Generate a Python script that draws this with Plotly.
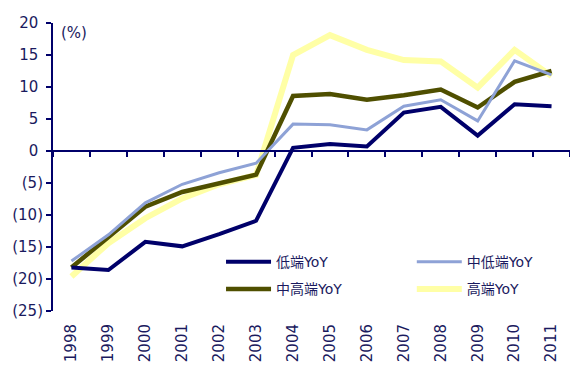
import plotly.graph_objects as go

years = ["1998", "1999", "2000", "2001", "2002", "2003", "2004",
         "2005", "2006", "2007", "2008", "2009", "2010", "2011"]

low = [-18.2, -18.6, -14.2, -14.9, -13.0, -10.9, 0.5, 1.1, 0.7, 6.0, 6.9, 2.4, 7.3, 7.0]
mid_low = [-17.2, -13.1, -8.1, -5.2, -3.4, -1.9, 4.2, 4.1, 3.3, 7.0, 8.0, 4.7, 14.1, 11.9]
mid_high = [-18.2, -13.4, -8.7, -6.4, -5.0, -3.7, 8.6, 8.9, 8.0, 8.7, 9.6, 6.8, 10.8, 12.5]
high = [-19.6, -14.4, -10.5, -7.4, -5.2, -3.75, 15.0, 18.1, 15.8, 14.2, 14.0, 9.9, 15.8, 11.7]

names = ["低端YoY", "中低端YoY", "中高端YoY", "高端YoY"]
colors = ["#00006A", "#8EA2D6", "#4F4F00", "#FFFFA6"]
widths = [4, 3, 4.5, 6]
legend_of = ["legend", "legend2", "legend", "legend2"]

y_ticks = [20, 15, 10, 5, 0, -5, -10, -15, -20, -25]
y_ticktext = [(str(v) + "\u00a0") if v >= 0 else "(" + str(-v) + ")" for v in y_ticks]

TXT = "#1A1A5E"
FONT = "DejaVu Sans, Noto Sans CJK SC, sans-serif"

series = [low, mid_low, mid_high, high]
draw_order = [3, 2, 1, 0]

fig = go.Figure()
for i in draw_order:
    fig.add_trace(go.Scatter(
        x=years, y=series[i], name=names[i], mode="lines",
        line=dict(color=colors[i], width=widths[i]),
        legend=legend_of[i], legendrank=i + 1, legendgroup=names[i],
    ))

# invisible trace on the zero-line category axis
fig.add_trace(go.Scatter(x=years, y=[0] * len(years), xaxis="x2", mode="lines",
                         line=dict(width=0), showlegend=False, hoverinfo="skip"))

ymin, ymax = -25, 20
leg_common = dict(orientation="v", yanchor="top", xanchor="left",
                  font=dict(size=14, color=TXT), bgcolor="rgba(0,0,0,0)",
                  tracegroupgap=6, itemwidth=45, traceorder="grouped")
fig.update_layout(
    width=570, height=376,
    margin=dict(l=53, r=0, t=23, b=65),
    paper_bgcolor="white", plot_bgcolor="white",
    font=dict(family=FONT, size=14, color=TXT),
    showlegend=True,
    legend=dict(x=0.325, y=0.225, **leg_common),
    legend2=dict(x=0.694, y=0.225, **leg_common),
    xaxis=dict(type="category", range=[-0.5, 13.5], showline=False, ticks="",
               tickangle=-90, showgrid=False, zeroline=False, automargin=False,
               ticklabelstandoff=9, tickfont=dict(size=15, color=TXT)),
    xaxis2=dict(type="category", range=[-0.5, 13.5], overlaying="x", anchor="free",
                position=(0 - ymin) / (ymax - ymin), showline=True, linecolor="#00006A",
                linewidth=2, ticks="outside", tickson="boundaries", ticklen=5,
                tickwidth=2, tickcolor="#00006A", showticklabels=False, showgrid=False,
                zeroline=False, side="bottom", automargin=False),
    yaxis=dict(range=[ymin, ymax], tickvals=y_ticks, ticktext=y_ticktext,
               showline=True, linecolor="#00006A", linewidth=2, ticks="outside",
               ticklen=5, tickwidth=2, tickcolor="#00006A", showgrid=False,
               zeroline=False, automargin=False, tickfont=dict(size=15, color=TXT)),
)

fig.add_annotation(text="(%)", xref="paper", yref="paper", x=0.012, y=1.005,
                   xanchor="left", yanchor="top", showarrow=False,
                   font=dict(size=15, color=TXT))

fig.write_html("out.html", config={"displayModeBar": False},
               post_script="document.body.style.margin='0';")
